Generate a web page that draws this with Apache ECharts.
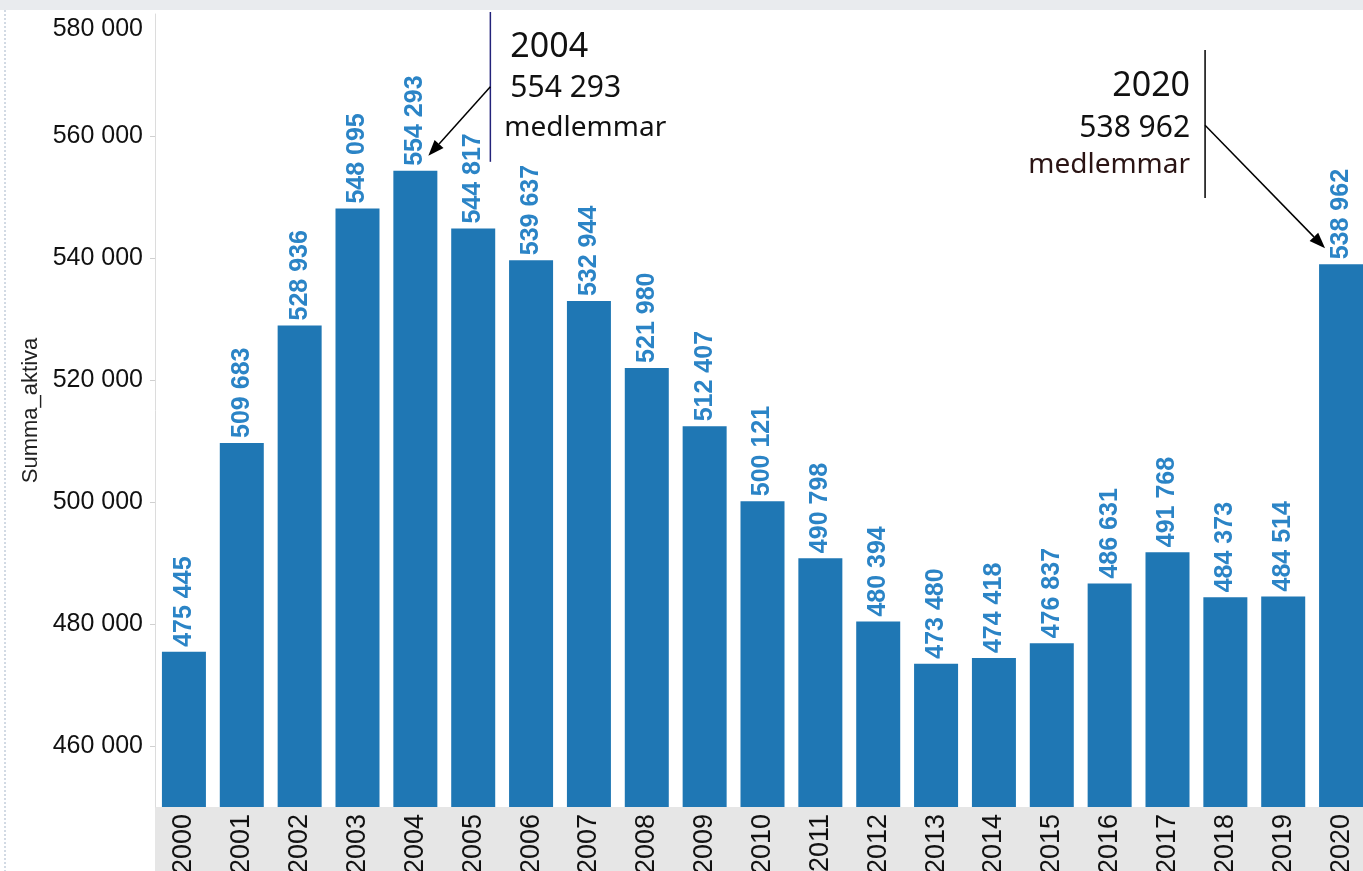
<!DOCTYPE html>
<html><head><meta charset="utf-8">
<script src="https://cdn.jsdelivr.net/npm/echarts@6/dist/echarts.min.js"></script>
<style>html,body{margin:0;padding:0;background:#fff;overflow:hidden;width:1363px;height:871px}#c{width:1372px;height:871px}</style>
</head><body><div id="c"></div>
<script>
var years = ['2000','2001','2002','2003','2004','2005','2006','2007','2008','2009','2010','2011','2012','2013','2014','2015','2016','2017','2018','2019','2020'];
var members = [475445,509683,528936,548095,554293,544817,539637,532944,521980,512407,500121,490798,480394,473480,474418,476837,486631,491768,484373,484514,538962];
var yTicks = [460000,480000,500000,520000,540000,560000,580000];
var yName = 'Summa_aktiva';
var notes = [
  {year:'2004', value:554293, title:'2004', line2:'554 293', line3:'medlemmar'},
  {year:'2020', value:538962, title:'2020', line2:'538 962', line3:'medlemmar'}
];

function fmt(v){ return String(v).replace(/\B(?=(\d{3})+(?!\d))/g,' '); }

var chart = echarts.init(document.getElementById('c'));
var GL=155, GT=14, GW=1215, GH=793;
chart.setOption({
  animation:false,
  backgroundColor:'#fff',
  grid:{left:GL, top:GT, width:GW, height:GH, containLabel:false, outerBoundsMode:'none'},
  xAxis:{
    type:'category', data:years,
    axisLine:{show:false}, axisTick:{show:false},
    axisLabel:{rotate:90, fontSize:27, color:'#111', fontFamily:'Liberation Sans', margin:7, interval:0}
  },
  yAxis:{
    type:'value', min:450000, max:580000,
    name:yName, nameLocation:'middle', nameRotate:90, nameGap:112,
    nameTextStyle:{fontSize:22, color:'#222', fontFamily:'Liberation Sans'},
    axisLine:{show:true, lineStyle:{color:'#dcdcdc', width:1}},
    axisTick:{show:true, length:5, lineStyle:{color:'#d0d0d0'}, customValues:yTicks.slice(0,6)},
    splitLine:{show:false},
    axisLabel:{
      customValues:yTicks, fontSize:25, color:'#111', fontFamily:'Liberation Sans', margin:12,
      formatter:function(v){ var s=fmt(v); return v===580000 ? '{m|'+s+'}' : s; },
      rich:{m:{fontSize:25, color:'#111', fontFamily:'Liberation Sans', padding:[30,0,0,0]}}
    }
  },
  series:[{
    type:'bar', data:members, barWidth:44,
    itemStyle:{color:'#1f77b4'},
    label:{show:true, position:'top', rotate:90, align:'left', verticalAlign:'middle', distance:5,
      formatter:function(p){return fmt(p.value);}, fontSize:25, fontWeight:'bold', color:'#2b84c6', fontFamily:'Liberation Sans'}
  }]
});

function arrow(x1,y1,x2,y2,color){
  var a=Math.atan2(y2-y1,x2-x1), L=16, W=6;
  var bx=x2-L*Math.cos(a), by=y2-L*Math.sin(a);
  var px=-Math.sin(a)*W, py=Math.cos(a)*W;
  return [
    {type:'line', shape:{x1:x1,y1:y1,x2:bx,y2:by}, style:{stroke:color, lineWidth:1.5}, z:100},
    {type:'polygon', shape:{points:[[x2,y2],[bx+px,by+py],[bx-px,by-py]]}, style:{fill:color}, z:100}
  ];
}

var g=[];
g.push({type:'rect', shape:{x:0,y:0,width:1372,height:10}, style:{fill:'#e9ebee'}, z:50});
g.push({type:'rect', shape:{x:GL,y:GT+GH,width:1372-GL,height:871-GT-GH}, style:{fill:'#e6e6e6'}, z:-10});
g.push({type:'line', shape:{x1:5,y1:10,x2:5,y2:871}, style:{stroke:'#c3cedb', lineWidth:1.5, lineDash:[2,2]}, z:50});

var ff='"Noto Sans", Roboto, sans-serif';
var p=chart.convertToPixel({seriesIndex:0},[notes[0].year,notes[0].value]);
var lx=p[0]+75;
g.push({type:'line', shape:{x1:lx,y1:12,x2:lx,y2:p[1]-9}, style:{stroke:'#23237a', lineWidth:1.5}, z:100});
g=g.concat(arrow(lx,p[1]-84,p[0]+13,p[1]-15,'#000'));
g.push({type:'text', x:lx+20, y:p[1]-124, style:{text:notes[0].title, fontSize:34, fill:'#111', fontFamily:ff, verticalAlign:'middle', align:'left'}, z:100});
g.push({type:'text', x:lx+20, y:p[1]-82, style:{text:notes[0].line2, fontSize:30, fill:'#111', fontFamily:ff, verticalAlign:'middle', align:'left'}, z:100});
g.push({type:'text', x:lx+14, y:p[1]-43, style:{text:notes[0].line3, fontSize:28, fill:'#111', fontFamily:ff, verticalAlign:'middle', align:'left'}, z:100});

var q=chart.convertToPixel({seriesIndex:0},[notes[1].year,notes[1].value]);
var mx=q[0]-136;
g.push({type:'line', shape:{x1:mx,y1:50,x2:mx,y2:198}, style:{stroke:'#000', lineWidth:1.5}, z:100});
g=g.concat(arrow(mx,q[1]-139,q[0]-16,q[1]-16,'#000'));
g.push({type:'text', x:mx-15, y:q[1]-178, style:{text:notes[1].title, fontSize:34, fill:'#111', fontFamily:ff, verticalAlign:'middle', align:'right'}, z:100});
g.push({type:'text', x:mx-15, y:q[1]-136, style:{text:notes[1].line2, fontSize:30, fill:'#111', fontFamily:ff, verticalAlign:'middle', align:'right'}, z:100});
g.push({type:'text', x:mx-15, y:q[1]-99, style:{text:notes[1].line3, fontSize:28, fill:'#2a1414', fontFamily:ff, verticalAlign:'middle', align:'right'}, z:100});

chart.setOption({graphic:g});
</script></body></html>
